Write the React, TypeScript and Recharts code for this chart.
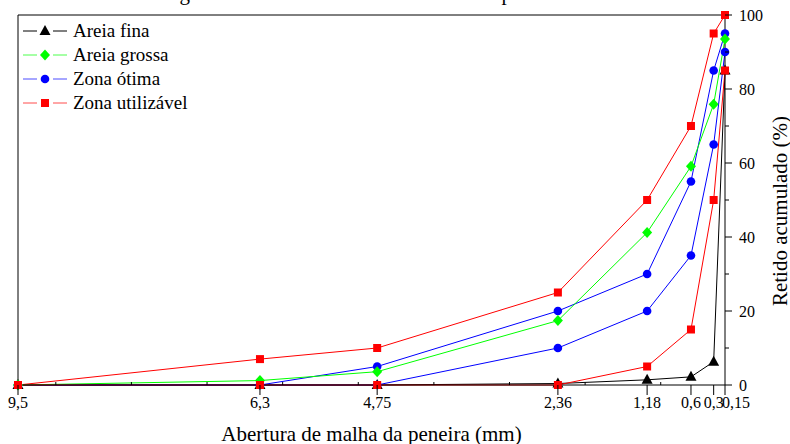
import React from "react";
import { LineChart, Line, XAxis, YAxis, Legend, Label } from "recharts";

// abertura das peneiras (mm)
const aberturas = [9.5, 6.3, 4.75, 2.36, 1.18, 0.6, 0.3, 0.15];
// retido acumulado (%)
const areiaFina = [0, 0, 0, 0.4, 1.4, 2.2, 6.3, 85];
const areiaGrossa = [0, 1.2, 3.6, 17.4, 41.2, 59.1, 75.9, 93.5];
const otimaInferior = [0, 0, 0, 10, 20, 35, 65, 90];
const otimaSuperior = [0, 0, 5, 20, 30, 55, 85, 95];
const utilizavelInferior = [0, 0, 0, 0, 5, 15, 50, 85];
const utilizavelSuperior = [0, 7, 10, 25, 50, 70, 95, 100];

const xMinorTicks = [1, 2, 3, 4, 5, 6, 7, 8, 9];
const yTicks = [0, 10, 20, 30, 40, 50, 60, 70, 80, 90, 100];
const yMinorTicks = [10, 20, 30, 40, 50, 60, 70, 80, 90];

const FONT = '"Liberation Serif", "Times New Roman", serif';

const data = aberturas.map((a, i) => ({
  abertura: a,
  fina: areiaFina[i],
  grossa: areiaGrossa[i],
  otimaInf: otimaInferior[i],
  otimaSup: otimaSuperior[i],
  utilInf: utilizavelInferior[i],
  utilSup: utilizavelSuperior[i],
}));

type MarkProps = { cx?: number; cy?: number; color: string };

const Triangle = ({ cx = 0, cy = 0, color }: MarkProps) => (
  <polygon points={`${cx},${cy - 6} ${cx - 5.5},${cy + 4} ${cx + 5.5},${cy + 4}`} fill={color} />
);
const Diamond = ({ cx = 0, cy = 0, color }: MarkProps) => (
  <polygon points={`${cx},${cy - 5.5} ${cx + 5},${cy} ${cx},${cy + 5.5} ${cx - 5},${cy}`} fill={color} />
);
const Circle = ({ cx = 0, cy = 0, color }: MarkProps) => <circle cx={cx} cy={cy} r={4.3} fill={color} />;
const Square = ({ cx = 0, cy = 0, color }: MarkProps) => (
  <rect x={cx - 4} y={cy - 4} width={8} height={8} fill={color} />
);

const legendItems = [
  { name: "Areia fina", color: "#000000", Mark: Triangle },
  { name: "Areia grossa", color: "#00ff00", Mark: Diamond },
  { name: "Zona ótima", color: "#0000ff", Mark: Circle },
  { name: "Zona utilizável", color: "#ff0000", Mark: Square },
];

const LegendBox = () => (
  <svg width={200} height={100} style={{ display: "block", fontFamily: FONT }}>
    {legendItems.map((it, i) => {
      const y = 12 + i * 24;
      const op = it.color === "#000000" ? 1 : 0.7;
      return (
        <g key={it.name}>
          <line x1={3} x2={17} y1={y} y2={y} stroke={it.color} strokeOpacity={op} />
          <it.Mark cx={25} cy={y} color={it.color} />
          <line x1={33} x2={47} y1={y} y2={y} stroke={it.color} strokeOpacity={op} />
          <text x={53} y={y + 6} fontSize={19} fill="#000">
            {it.name}
          </text>
        </g>
      );
    })}
  </svg>
);

const isMajorX = (v: number) => aberturas.includes(v);
const lastX = aberturas[aberturas.length - 1];

// x axis at the bottom: major ticks outward with labels, minor ticks inward
const BottomTick = (props: any) => {
  const { x, y, payload } = props;
  const axisY = y - 12;
  const v = payload.value as number;
  if (isMajorX(v)) {
    const last = v === lastX;
    return (
      <g>
        <line x1={x} x2={x} y1={axisY} y2={axisY + 10} stroke="#000" />
        <text
          x={last ? x - 3 : x}
          y={axisY + 23}
          textAnchor={last ? "start" : "middle"}
          fontSize={16}
          fontFamily={FONT}
          fill="#000"
        >
          {String(v).replace(".", ",")}
        </text>
      </g>
    );
  }
  return <line x1={x} x2={x} y1={axisY} y2={axisY - 3} stroke="#000" />;
};

const RightTick = (props: any) => {
  const { x, y, payload } = props;
  const axisX = x - 10;
  const v = payload.value as number;
  const major = v % 20 === 0;
  return (
    <g>
      <line x1={axisX} x2={axisX + (major ? 7 : 4)} y1={y} y2={y} stroke="#000" />
      {major && (
        <text x={axisX + 14} y={y + 5.5} fontSize={16} fontFamily={FONT} fill="#000">
          {v}
        </text>
      )}
    </g>
  );
};

export default function App() {
  return (
    <div style={{ position: "absolute", left: 0, top: 0, width: 790, height: 444, background: "#fff" }}>
      <svg width={790} height={20} style={{ position: "absolute", left: 0, top: 0, fontFamily: FONT }}>
        <text x={92} y={0} fontSize={21} fill="#000">
          Ensaio de granulometria das areias e dos limites pela NBR 7211
        </text>
      </svg>
      <LineChart
        width={790}
        height={444}
        data={data}
        margin={{ top: 15, right: 0, bottom: 0, left: 18 }}
        style={{ fontFamily: FONT }}
      >
        <XAxis
          xAxisId="x"
          type="number"
          dataKey="abertura"
          domain={[0.15, 9.5]}
          reversed
          ticks={[...aberturas, ...xMinorTicks]}
          interval={0}
          tickLine={false}
          tickSize={10}
          tickMargin={2}
          tick={<BottomTick />}
          height={59}
          axisLine={{ stroke: "#000" }}
        >
          <Label
            content={(p: any) => {
              const vb = p.viewBox;
              return (
                <text
                  x={vb.x + vb.width / 2}
                  y={vb.y + vb.height - 3}
                  textAnchor="middle"
                  fontSize={21}
                  fontFamily={FONT}
                  fill="#000"
                >
                  Abertura de malha da peneira (mm)
                </text>
              );
            }}
          />
        </XAxis>
        <XAxis
          xAxisId="top"
          orientation="top"
          type="number"
          domain={[0.15, 9.5]}
          reversed
          ticks={xMinorTicks}
          interval={0}
          mirror
          tick={false}
          tickSize={3}
          height={1}
          axisLine={{ stroke: "#000" }}
          tickLine={{ stroke: "#000" }}
        />
        <YAxis
          yAxisId="y"
          orientation="right"
          type="number"
          domain={[0, 100]}
          ticks={yTicks}
          interval={0}
          tickLine={false}
          tickSize={7}
          tickMargin={3}
          tick={<RightTick />}
          width={65}
          axisLine={{ stroke: "#000" }}
        >
          <Label
            content={(p: any) => {
              const vb = p.viewBox;
              const cx = vb.x + vb.width - 3;
              const cy = vb.y + vb.height / 2 + 11;
              return (
                <text
                  transform={`translate(${cx},${cy}) rotate(-90)`}
                  textAnchor="middle"
                  fontSize={21}
                  fontFamily={FONT}
                  fill="#000"
                >
                  Retido acumulado (%)
                </text>
              );
            }}
          />
        </YAxis>
        <YAxis
          yAxisId="left"
          orientation="left"
          type="number"
          domain={[0, 100]}
          ticks={yMinorTicks}
          interval={0}
          mirror
          tick={false}
          tickSize={3}
          width={1}
          axisLine={{ stroke: "#000" }}
          tickLine={{ stroke: "#000" }}
        />
        <Legend
          layout="vertical"
          align="center"
          verticalAlign="middle"
          content={<LegendBox />}
          wrapperStyle={{ position: "absolute", left: 20, top: 18.7, width: 200, height: 100 }}
        />
        <Line
          xAxisId="x"
          yAxisId="y"
          dataKey="fina"
          name="Areia fina"
          stroke="#000"
          strokeWidth={1}
          isAnimationActive={false}
          dot={(p: any) => <Triangle key={p.index} cx={p.cx} cy={p.cy} color="#000" />}
        />
        <Line
          xAxisId="x"
          yAxisId="y"
          dataKey="otimaInf"
          name="Zona ótima"
          stroke="#0000ff"
          strokeWidth={1}
          isAnimationActive={false}
          dot={(p: any) => <Circle key={p.index} cx={p.cx} cy={p.cy} color="#0000ff" />}
        />
        <Line
          xAxisId="x"
          yAxisId="y"
          dataKey="otimaSup"
          name="Zona ótima sup"
          stroke="#0000ff"
          strokeWidth={1}
          isAnimationActive={false}
          dot={(p: any) => <Circle key={p.index} cx={p.cx} cy={p.cy} color="#0000ff" />}
        />
        <Line
          xAxisId="x"
          yAxisId="y"
          dataKey="utilSup"
          name="Zona utilizável sup"
          stroke="#ff0000"
          strokeWidth={1}
          isAnimationActive={false}
          dot={(p: any) => <Square key={p.index} cx={p.cx} cy={p.cy} color="#ff0000" />}
        />
        <Line
          xAxisId="x"
          yAxisId="y"
          dataKey="grossa"
          name="Areia grossa"
          stroke="#00ff00"
          strokeWidth={1}
          isAnimationActive={false}
          dot={(p: any) => <Diamond key={p.index} cx={p.cx} cy={p.cy} color="#00ff00" />}
        />
        <Line
          xAxisId="x"
          yAxisId="y"
          dataKey="utilInf"
          name="Zona utilizável"
          stroke="#ff0000"
          strokeWidth={1}
          isAnimationActive={false}
          dot={(p: any) => <Square key={p.index} cx={p.cx} cy={p.cy} color="#ff0000" />}
        />
      </LineChart>
    </div>
  );
}
